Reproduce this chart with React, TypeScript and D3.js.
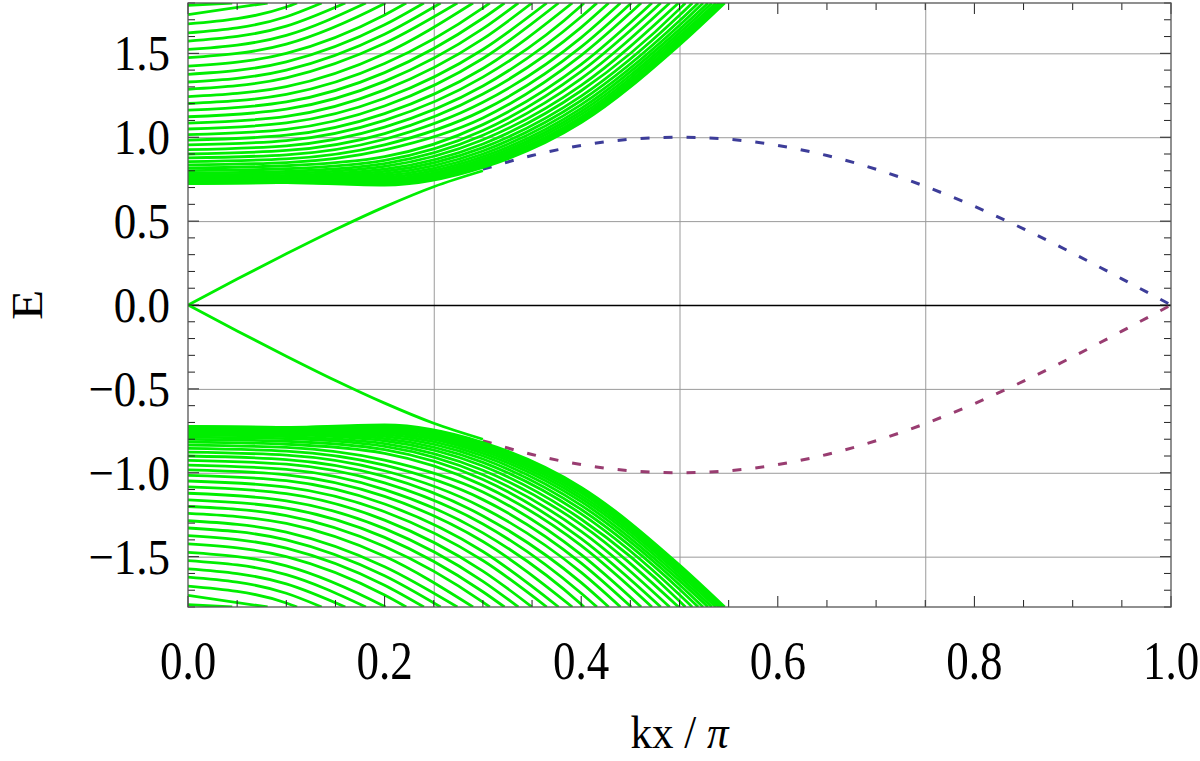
import * as d3 from 'd3';

// bulk subbands, upper branch (the lower branch is its mirror image E -> -E)
// E at kx = 0, then read at kx = 0.1 ... 0.5 (null once the line has left the frame)
const bandE0 = [
  1.786, 1.731, 1.675, 1.622, 1.573, 1.523, 1.474, 1.424, 1.375, 1.329,
  1.286, 1.242, 1.201, 1.161, 1.122, 1.084, 1.049, 1.015, 0.983, 0.954,
  0.926, 0.9, 0.877, 0.855, 0.835, 0.817, 0.801, 0.787, 0.775, 0.765,
  0.756, 0.749, 0.743, 0.738, 0.734, 0.731, 0.728, 0.726, 0.725, 0.724,
];
// kx / pi where each line leaves the top of the frame (E = 1.8)
const bandKEnd = [
  0.045, 0.081, 0.111, 0.136, 0.16, 0.181, 0.201, 0.222, 0.24, 0.257,
  0.274, 0.29, 0.307, 0.322, 0.336, 0.35, 0.365, 0.377, 0.391, 0.403,
  0.416, 0.428, 0.44, 0.451, 0.461, 0.472, 0.481, 0.49, 0.499, 0.506,
  0.513, 0.519, 0.524, 0.529, 0.533, 0.537, 0.54, 0.542, 0.544, 0.546,
];
const bandAt01 = [
  null, null, 1.776, 1.718, 1.662, 1.607, 1.555, 1.5, 1.449, 1.4,
  1.354, 1.302, 1.255, 1.21, 1.167, 1.124, 1.085, 1.047, 1.012, 0.98,
  0.949, 0.921, 0.895, 0.871, 0.849, 0.83, 0.812, 0.797, 0.784, 0.773,
  0.763, 0.755, 0.749, 0.743, 0.739, 0.736, 0.733, 0.731, 0.73, 0.729,
];
const bandAt02 = [
  null, null, null, null, null, null, 1.797, 1.729, 1.67, 1.614,
  1.56, 1.498, 1.439, 1.385, 1.333, 1.282, 1.232, 1.186, 1.141, 1.1,
  1.06, 1.022, 0.988, 0.955, 0.925, 0.884, 0.862, 0.843, 0.826, 0.81,
  0.796, 0.783, 0.771, 0.76, 0.75, 0.741, 0.733, 0.726, 0.72, 0.715,
];
const bandAt03 = [
  null, null, null, null, null, null, null, null, null, null,
  null, null, 1.771, 1.709, 1.647, 1.586, 1.523, 1.469, 1.41, 1.358,
  1.305, 1.257, 1.208, 1.16, 1.115, 1.075, 1.04, 1.012, 0.985, 0.96,
  0.938, 0.918, 0.9, 0.884, 0.87, 0.858, 0.847, 0.837, 0.828, 0.82,
];
const bandAt04 = [
  null, null, null, null, null, null, null, null, null, null,
  null, null, null, null, null, null, null, null, null, 1.784,
  1.718, 1.655, 1.594, 1.538, 1.488, 1.434, 1.392, 1.349, 1.309, 1.277,
  1.245, 1.219, 1.194, 1.172, 1.153, 1.136, 1.12, 1.108, 1.096, 1.087,
];
const bandAt05 = [
  null, null, null, null, null, null, null, null, null, null,
  null, null, null, null, null, null, null, null, null, null,
  null, null, null, null, null, null, null, null, null, 1.765,
  1.727, 1.694, 1.667, 1.643, 1.622, 1.603, 1.587, 1.573, 1.56, 1.55,
];
const bandColumns = [0.1, 0.2, 0.3, 0.4, 0.5];
const bandColumnValues = [bandAt01, bandAt02, bandAt03, bandAt04, bandAt05];

// in-gap edge states (green) from the Dirac point
const edgeK = [0, 0.05, 0.1, 0.15, 0.2, 0.25, 0.3];
const edgeUpper = [0, 0.155, 0.305, 0.45, 0.585, 0.705, 0.8];
const edgeLower = [0, -0.155, -0.305, -0.45, -0.585, -0.705, -0.8];

// dashed reference curves (visible part, right of the bulk bands)
const dashK = [0.3, 0.35, 0.4, 0.45, 0.5, 0.55, 0.6, 0.65, 0.7, 0.75, 0.8, 0.85, 0.9, 0.95, 1];
const dashUpper = [0.809, 0.891, 0.951, 0.988, 1, 0.988, 0.951, 0.891, 0.809, 0.707, 0.588, 0.454, 0.309, 0.156, 0];
const dashLower = [-0.809, -0.891, -0.951, -0.988, -1, -0.988, -0.951, -0.891, -0.809, -0.707, -0.588, -0.454, -0.309, -0.156, 0];

const xTickLabels = ['0.0', '0.2', '0.4', '0.6', '0.8', '1.0'];
const xTickValues = [0, 0.2, 0.4, 0.6, 0.8, 1.0];
const yTickLabels = ['\u22121.5', '\u22121.0', '\u22120.5', '0.0', '0.5', '1.0', '1.5'];
const yTickValues = [-1.5, -1.0, -0.5, 0, 0.5, 1.0, 1.5];
const xGrid = [0.25, 0.5, 0.75];
const yGrid = [-1.5, -1.0, -0.5, 0.5, 1.0, 1.5];

const W = 1200;
const H = 761;
const plot = { left: 188, right: 1171, top: 3, bottom: 607 };
const FONT = '"Liberation Serif", "Times New Roman", serif';
const GREEN = '#00ee00';

export default function App() {
  const x = d3.scaleLinear().domain([0, 1]).range([plot.left, plot.right]);
  const y = d3.scaleLinear().domain([-1.8, 1.8]).range([plot.bottom, plot.top]);

  const line = d3
    .line<[number, number]>()
    .x((d) => x(d[0]))
    .y((d) => y(d[1]))
    .curve(d3.curveMonotoneX);

  const bandLines: [number, number][][] = bandE0.map((e0, i) => {
    const pts: [number, number][] = [[0, e0]];
    bandColumns.forEach((k, c) => {
      const v = bandColumnValues[c][i];
      if (v !== null && k < bandKEnd[i]) pts.push([k, v]);
    });
    pts.push([bandKEnd[i], 1.8]);
    return pts;
  });

  const xMinor = d3.range(0, 21).map((i) => i / 20);
  const yMinor = d3.range(-18, 19).map((i) => i / 10);
  const isMajorX = (v: number) => Math.abs(v * 5 - Math.round(v * 5)) < 1e-6;
  const isMajorY = (v: number) => Math.abs(v * 2 - Math.round(v * 2)) < 1e-6;

  const zip = (ks: number[], es: number[]) => ks.map((k, i) => [k, es[i]] as [number, number]);

  return (
    <svg
      width={W}
      height={H}
      style={{ position: 'absolute', left: 0, top: 0, background: '#fff' }}
      fontFamily={FONT}
    >
      <defs>
        <clipPath id="plotClip">
          <rect x={plot.left} y={plot.top} width={plot.right - plot.left} height={plot.bottom - plot.top} />
        </clipPath>
      </defs>

      {/* grid */}
      <g stroke="#9a9a9a" strokeWidth={1}>
        {xGrid.map((v) => (
          <line key={`gx${v}`} x1={x(v) + 0.5} x2={x(v) + 0.5} y1={plot.top} y2={plot.bottom} />
        ))}
        {yGrid.map((v) => (
          <line key={`gy${v}`} x1={plot.left} x2={plot.right} y1={y(v) + 0.5} y2={y(v) + 0.5} />
        ))}
      </g>
      <line x1={plot.left} x2={plot.right} y1={y(0) + 0.5} y2={y(0) + 0.5} stroke="#000" strokeWidth={1.3} />

      <g clipPath="url(#plotClip)" fill="none">
        <path d={line(zip(dashK, dashUpper)) ?? ''} stroke="#3d3d99" strokeWidth={3} strokeDasharray="9 14" />
        <path d={line(zip(dashK, dashLower)) ?? ''} stroke="#993d71" strokeWidth={3} strokeDasharray="9 14" />

        {bandLines.map((pts, i) => (
          <path key={`bu${i}`} d={line(pts) ?? ''} stroke={GREEN} strokeWidth={2.8} />
        ))}
        {bandLines.map((pts, i) => (
          <path
            key={`bl${i}`}
            d={line(pts.map(([k, e]) => [k, -e] as [number, number])) ?? ''}
            stroke={GREEN}
            strokeWidth={2.8}
          />
        ))}
        <path d={line(zip(edgeK, edgeUpper)) ?? ''} stroke={GREEN} strokeWidth={2.8} />
        <path d={line(zip(edgeK, edgeLower)) ?? ''} stroke={GREEN} strokeWidth={2.8} />
      </g>

      {/* ticks */}
      <g stroke="#222" strokeWidth={1}>
        {xMinor.map((v) => {
          const len = isMajorX(v) ? 11 : 7;
          return (
            <g key={`tx${v}`}>
              <line x1={x(v)} x2={x(v)} y1={plot.bottom} y2={plot.bottom - len} />
              <line x1={x(v)} x2={x(v)} y1={plot.top} y2={plot.top + len} />
            </g>
          );
        })}
        {yMinor.map((v) => {
          const len = isMajorY(v) ? 11 : 7;
          return (
            <g key={`ty${v}`}>
              <line x1={plot.left} x2={plot.left + len} y1={y(v)} y2={y(v)} />
              <line x1={plot.right} x2={plot.right - len} y1={y(v)} y2={y(v)} />
            </g>
          );
        })}
      </g>

      <rect
        x={plot.left}
        y={plot.top}
        width={plot.right - plot.left}
        height={plot.bottom - plot.top}
        fill="none"
        stroke="#555"
        strokeWidth={1.3}
      />

      {/* tick labels, slightly tall like the reference */}
      <g fontSize={45} fill="#000">
        {yTickValues.map((v, i) => (
          <text
            key={`yl${v}`}
            textAnchor="end"
            transform={`translate(170, ${y(v) + 17}) scale(1, 1.12)`}
          >
            {yTickLabels[i]}
          </text>
        ))}
        {xTickValues.map((v, i) => (
          <text
            key={`xl${v}`}
            textAnchor="middle"
            transform={`translate(${x(v)}, 679) scale(1, 1.2)`}
          >
            {xTickLabels[i]}
          </text>
        ))}
      </g>

      <text transform={`translate(${x(0.5)}, 748) scale(1, 1.1)`} textAnchor="middle" fontSize={43}>
        kx / <tspan fontStyle="italic">π</tspan>
      </text>
      <text transform={`translate(42, ${y(0)}) rotate(-90) scale(1.1, 1)`} textAnchor="middle" fontSize={45}>
        E
      </text>
    </svg>
  );
}
